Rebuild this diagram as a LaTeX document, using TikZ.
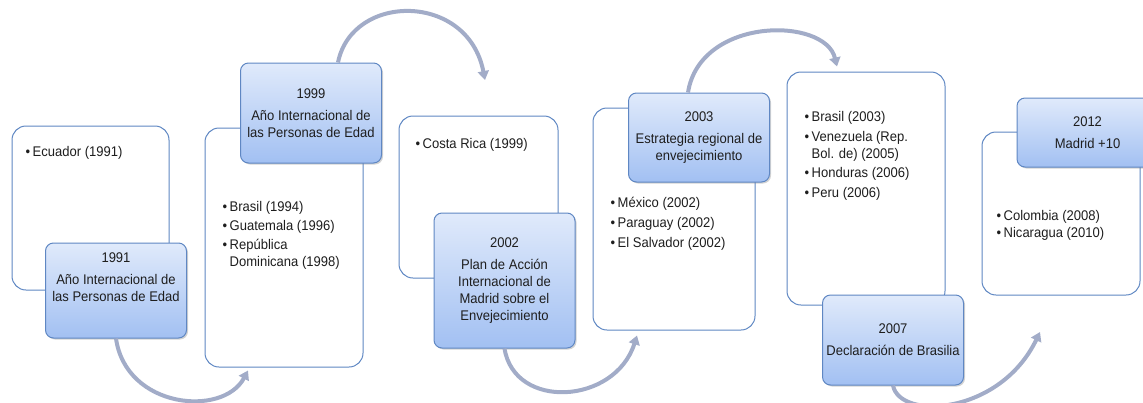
\documentclass[tikz,border=0pt]{standalone}
\usepackage{fontspec}
\setmainfont{Liberation Sans}[FakeStretch=0.93]
\usetikzlibrary{arrows.meta,shadows}

\definecolor{boxline}{RGB}{95,135,195}
\definecolor{boxtop}{RGB}{224,234,251}
\definecolor{boxbottom}{RGB}{162,192,242}
\definecolor{flowgray}{RGB}{162,172,200}
\definecolor{txt}{RGB}{30,30,30}

\newcommand{\bul}{\makebox[7pt][l]{•}}
\newcommand{\cont}{\hspace*{7pt}}

\tikzset{
  listbox/.style={draw=boxline, line width=1pt, fill=white, rounded corners=14pt, inner sep=0pt},
  yearbox/.style={draw=boxline, line width=1pt, top color=boxtop, bottom color=boxbottom,
    rounded corners=8pt, minimum width=141pt, align=center, text=txt, inner sep=0pt,
    drop shadow={opacity=0.35, shadow xshift=1.5pt, shadow yshift=-1.5pt}},
  itemlist/.style={anchor=north west, align=left, inner sep=0pt, text=txt},
  flow/.style={draw=flowgray, line width=4pt, -{Triangle[length=9pt,width=11pt]}},
}

\begin{document}
\begin{tikzpicture}[x=1pt, y=-1pt, font=\fontsize{14}{17}\selectfont]
    \useasboundingbox (0,0) rectangle (1143,402);
    \clip (0,0) rectangle (1143,402);

    % country boxes
    \node[listbox, minimum width=157pt, minimum height=164pt] (box1) at (90.5,208) {};
    \node[listbox, minimum width=158pt, minimum height=239pt] (box2) at (284,247.5) {};
    \node[listbox, minimum width=159pt, minimum height=162pt] (box3) at (478.5,197) {};
    \node[listbox, minimum width=162pt, minimum height=222pt] (box4) at (674,219) {};
    \node[listbox, minimum width=158pt, minimum height=233pt] (box5) at (866,188.5) {};
    \node[listbox, minimum width=158pt, minimum height=163pt] (box6) at (1061,213.5) {};

    % country lists
    \node[itemlist] (list1) at ([xshift=14pt,yshift=-21pt]box1.north west) {\bul Ecuador (1991)};
    \node[itemlist] (list2) at ([xshift=18pt,yshift=-74pt]box2.north west)
        {\bul Brasil (1994)\\[2pt] \bul Guatemala (1996)\\[2pt] \bul República\\ \cont Dominicana (1998)};
    \node[itemlist] (list3) at ([xshift=17pt,yshift=-23pt]box3.north west) {\bul Costa Rica (1999)};
    \node[itemlist] (list4) at ([xshift=18pt,yshift=-89pt]box4.north west)
        {\bul México (2002)\\[3pt] \bul Paraguay (2002)\\[3pt] \bul El Salvador (2002)};
    \node[itemlist] (list5) at ([xshift=18pt,yshift=-40pt]box5.north west)
        {\bul Brasil (2003)\\[3pt] \bul Venezuela (Rep.\\ \cont Bol. de) (2005)\\[2pt] \bul Honduras (2006)\\[3pt] \bul Peru (2006)};
    \node[itemlist] (list6) at ([xshift=15pt,yshift=-79pt]box6.north west)
        {\bul Colombia (2008)\\ \bul Nicaragua (2010)};

    % milestones
    \node[yearbox, minimum height=95pt] (y1991) at (116,290.5)
        {1991\\[5pt] Año Internacional de\\ las Personas de Edad\\[9pt] \mbox{}};
    \node[yearbox, minimum height=100pt] (y1999) at (311,113)
        {1999\\[5pt] Año Internacional de\\ las Personas de Edad};
    \node[yearbox, minimum height=135pt] (y2002) at (504.5,280.5)
        {2002\\[5pt] Plan de Acción\\ Internacional de\\ Madrid sobre el\\ Envejecimiento};
    \node[yearbox, minimum height=89pt] (y2003) at (699,137.5)
        {2003\\[5pt] Estrategia regional de\\ envejecimiento};
    \node[yearbox, minimum height=90pt] (y2007) at (893,340)
        {2007\\[5pt] Declaración de Brasilia};
    \node[yearbox, minimum height=69pt] (y2012) at (1087.5,132.5)
        {2012\\[5pt] Madrid +10};

    % curved arrows
    \coordinate (tipB) at (485,80);
    \coordinate (tipE) at (1040,332);
    \draw[flow] (y1991.south) .. controls +(10,70) and +(-25,47) .. ([xshift=-36pt,yshift=-3pt]box2.south);
    \draw[flow] ([xshift=27pt]y1999.north) .. controls +(14,-70) and +(-17,-88) .. (tipB);
    \draw[flow] (y2002.south) .. controls +(10,62) and +(-22,69) .. ([xshift=-37pt,yshift=-5pt]box4.south);
    \draw[flow] ([xshift=-11pt]y2003.north) .. controls +(12,-76) and +(-12,-50) .. ([xshift=-29pt,yshift=5pt]box5.north);
    \draw[flow] (y2007.south) .. controls +(7,35) and +(-40,83) .. (tipE);
\end{tikzpicture}
\end{document}
